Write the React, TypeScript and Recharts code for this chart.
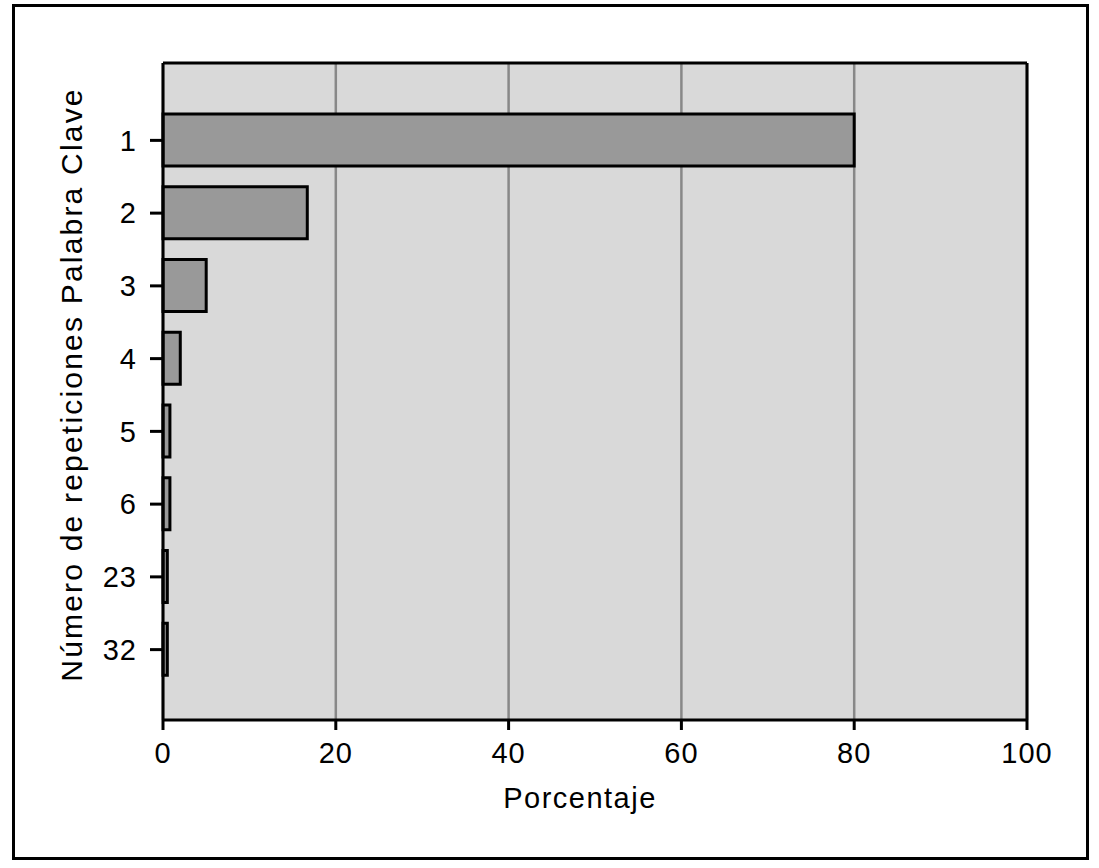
import { BarChart, Bar, XAxis, YAxis, CartesianGrid } from 'recharts';

// repetitions of the keyword and share of documents (%)
const categories = ['1', '2', '3', '4', '5', '6', '23', '32'];
const percentages = [80, 16.7, 5, 2, 0.8, 0.8, 0.5, 0.5];
const xTicks = [0, 20, 40, 60, 80, 100];

const chartData = categories.map((name, i) => ({ name, value: percentages[i] }));

const font = '"Liberation Sans", Arial, Helvetica, sans-serif';

const YLabel = (props: any) => {
  const { viewBox } = props;
  const cy = viewBox.y + viewBox.height / 2 - 7;
  return (
    <text transform={`translate(82, ${cy}) rotate(-90)`} textAnchor="middle" fontSize={30} letterSpacing={2.2} fill="#000" fontFamily={font}>
      Número de repeticiones Palabra Clave
    </text>
  );
};

const XLabel = (props: any) => {
  const { viewBox } = props;
  const cx = viewBox.x + viewBox.width / 2 - 15;
  return (
    <text x={cx} y={808} textAnchor="middle" fontSize={29} letterSpacing={1.5} fill="#000" fontFamily={font}>
      Porcentaje
    </text>
  );
};

export default function App() {
  return (
    <div style={{ position: 'absolute', left: 0, top: 0, width: 1099, height: 868, background: '#fff', fontFamily: font }}>
      <div style={{ position: 'absolute', left: 12, top: 4, width: 1071, height: 850, border: '3px solid #000' }} />
      <div style={{ position: 'absolute', left: 0, top: 0 }}>
        <BarChart
          width={1099}
          height={868}
          data={chartData}
          layout="vertical"
          margin={{ top: 62, right: 71, bottom: 88, left: 0 }}
        >
          <CartesianGrid fill="#d9d9d9" horizontal={false} stroke="#888" strokeWidth={2.5} strokeOpacity={1} />
          <XAxis
            type="number"
            domain={[0, 100]}
            ticks={xTicks}
            height={60}
            axisLine={{ stroke: '#000', strokeWidth: 3 }}
            tickLine={{ stroke: '#000', strokeWidth: 3 }}
            tickSize={10}
            tickMargin={12}
            tick={{ fill: '#000', fontSize: 29, letterSpacing: 1, fontFamily: font }}
            label={<XLabel />}
          />
          <XAxis
            xAxisId="top"
            orientation="top"
            type="number"
            domain={[0, 100]}
            ticks={xTicks}
            height={1}
            tick={false}
            tickLine={false}
            axisLine={{ stroke: '#000', strokeWidth: 3 }}
          />
          <YAxis
            type="category"
            dataKey="name"
            width={163}
            padding={{ top: 41, bottom: 34 }}
            axisLine={{ stroke: '#000', strokeWidth: 3 }}
            tickLine={{ stroke: '#000', strokeWidth: 3 }}
            tickSize={13}
            tickMargin={13}
            tick={{ fill: '#000', fontSize: 29, letterSpacing: 1, fontFamily: font }}
            label={<YLabel />}
          />
          <YAxis
            yAxisId="right"
            orientation="right"
            type="category"
            dataKey="name"
            width={1}
            tick={false}
            tickLine={false}
            axisLine={{ stroke: '#000', strokeWidth: 3 }}
          />
          <Bar dataKey="value" fill="#999" stroke="#000" strokeWidth={3} barSize={52} isAnimationActive={false} />
        </BarChart>
      </div>
    </div>
  );
}
